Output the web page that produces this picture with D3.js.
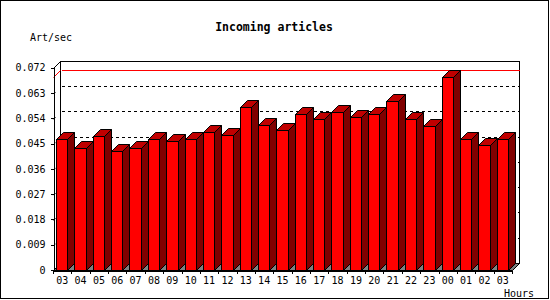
<!DOCTYPE html>
<html>
<head>
<meta charset="utf-8">
<script src="https://cdn.jsdelivr.net/npm/d3@7/dist/d3.min.js"></script>
<style>
html,body{margin:0;padding:0;background:#fff;}
svg{display:block;}
text{font-family:"DejaVu Sans Mono","Liberation Mono",monospace;fill:#000;}
</style>
</head>
<body>
<svg id="chart" width="550" height="300"></svg>
<script>
const categories = ["03","04","05","06","07","08","09","10","11","12","13","14","15","16","17","18","19","20","21","22","23","00","01","02","03"];
const values = [0.0468,0.0433,0.0477,0.0423,0.0433,0.0468,0.0459,0.0465,0.0490,0.0480,0.0579,0.0516,0.0500,0.0557,0.0536,0.0564,0.0543,0.0557,0.0600,0.0539,0.0511,0.0686,0.0465,0.0444,0.0468];
const yTicks = [0,0.009,0.018,0.027,0.036,0.045,0.054,0.063,0.072];
const title = "Incoming articles";
const yTitle = "Art/sec";
const xTitle = "Hours";

const svg = d3.select("#chart");
const W = 550, H = 300;
const depth = 7;
const idx = categories.map((d,i)=>i);

const x = d3.scaleBand().domain(idx).range([53, 512]).paddingInner(0).paddingOuter(0);
const y = d3.scaleLinear().domain([0, 0.072]).range([270, 67.75]);

const px = v => Math.round(v) + 0.5;
const X0 = px(x.range()[0]), X1 = px(x.range()[1]);
const Y0 = px(y(0)), YT = px(y(0.072));

// outer border
svg.append("rect").attr("x",0.5).attr("y",0.5).attr("width",548).attr("height",298)
  .attr("fill","#fff").attr("stroke","#000").attr("shape-rendering","crispEdges");

// back wall
svg.append("rect").attr("x",X0+depth).attr("y",YT-depth)
  .attr("width",X1-X0).attr("height",Y0-YT)
  .attr("fill","#fff").attr("stroke","#000").attr("shape-rendering","crispEdges");

// gridlines on back wall
svg.append("g").selectAll("line").data(yTicks.filter(t=>t>0 && t<0.072)).join("line")
  .attr("x1",X0+depth+1).attr("x2",X1+depth)
  .attr("y1",d=>px(y(d))-depth).attr("y2",d=>px(y(d))-depth)
  .attr("stroke","#000").attr("stroke-dasharray","3,3").attr("shape-rendering","crispEdges");

// max line
const vmax = d3.max(values);
const ym = px(y(vmax));
svg.append("line").attr("x1",X0+depth+1).attr("x2",X1+depth).attr("y1",ym-depth).attr("y2",ym-depth)
  .attr("stroke","#f00").attr("shape-rendering","crispEdges");
svg.append("line").attr("x1",X0).attr("x2",X0+depth).attr("y1",ym).attr("y2",ym-depth)
  .attr("stroke","#f00");

// floor
svg.append("path")
  .attr("d",`M${X0},${Y0}L${X0+depth},${Y0-depth}L${X1+depth},${Y0-depth}L${X1},${Y0}Z`)
  .attr("fill","#808080").attr("stroke","#000").attr("stroke-width",1);

// frame edges
svg.append("line").attr("x1",X0).attr("y1",YT).attr("x2",X0+depth).attr("y2",YT-depth).attr("stroke","#000");
svg.append("line").attr("x1",X1).attr("y1",Y0).attr("x2",X1+depth).attr("y2",Y0-depth).attr("stroke","#000");

// bars
const fw = x.bandwidth() - depth;
const bars = svg.append("g").selectAll("g").data(values).join("g");
bars.each(function(v,i){
  const g = d3.select(this);
  const a = px(x(i)+3), b = px(x(i)+3+fw);
  const t = px(y(v));
  g.append("path")
    .attr("d",`M${b},${t}L${b+depth},${t-depth}L${b+depth},${Y0-depth}L${b},${Y0}Z`)
    .attr("fill","#800000").attr("stroke","#000");
  g.append("path")
    .attr("d",`M${a},${t}L${a+depth},${t-depth}L${b+depth},${t-depth}L${b},${t}Z`)
    .attr("fill","#c00000").attr("stroke","#000");
  g.append("rect").attr("x",a).attr("y",t).attr("width",b-a).attr("height",Y0-t)
    .attr("fill","#ff0000").attr("stroke","#000").attr("shape-rendering","crispEdges");
});

// y axis
const yAxis = d3.axisLeft(y).tickValues(yTicks).tickSize(3).tickPadding(5).tickSizeOuter(0)
  .tickFormat(d => d===0 ? "0" : d3.format(".3f")(d));
const gy = svg.append("g").attr("transform",`translate(${X0},0)`).call(yAxis);
gy.selectAll("text").style("font-size","10px").style("font-family",'"DejaVu Sans Mono",monospace');
gy.select(".domain").attr("shape-rendering","crispEdges");
gy.selectAll(".tick line").attr("shape-rendering","crispEdges");
// short side-wall depth stubs
gy.selectAll(".tick").filter(d=>d>0 && d<0.072).append("line")
  .attr("x1",0).attr("y1",0.5).attr("x2",2).attr("y2",-1.5).attr("stroke","#000");

// x axis
const xAxis = d3.axisBottom(x).tickSize(0).tickPadding(6).tickFormat(i=>categories[i]);
const gx = svg.append("g").attr("transform",`translate(0,${Y0})`).call(xAxis);
gx.select(".domain").attr("d",`M${X0},0.5H${X1}`).attr("shape-rendering","crispEdges");
gx.selectAll("text").style("font-size","10px").style("font-family",'"DejaVu Sans Mono",monospace');
// boundary ticks
svg.append("g").selectAll("line").data(d3.range(categories.length+1)).join("line")
  .attr("x1",i=>px(x.range()[0]+i*x.step())).attr("x2",i=>px(x.range()[0]+i*x.step()))
  .attr("y1",Y0).attr("y2",Y0+3).attr("stroke","#000").attr("shape-rendering","crispEdges");

// titles
svg.append("text").attr("x",274).attr("y",30.5).attr("text-anchor","middle")
  .style("font-size","11.5px").style("font-weight","bold").text(title);
svg.append("text").attr("x",30).attr("y",40.5).style("font-size","10px").text(yTitle);
svg.append("text").attr("x",534).attr("y",296.5).attr("text-anchor","end").style("font-size","10px").text(xTitle);
</script>
</body>
</html>
